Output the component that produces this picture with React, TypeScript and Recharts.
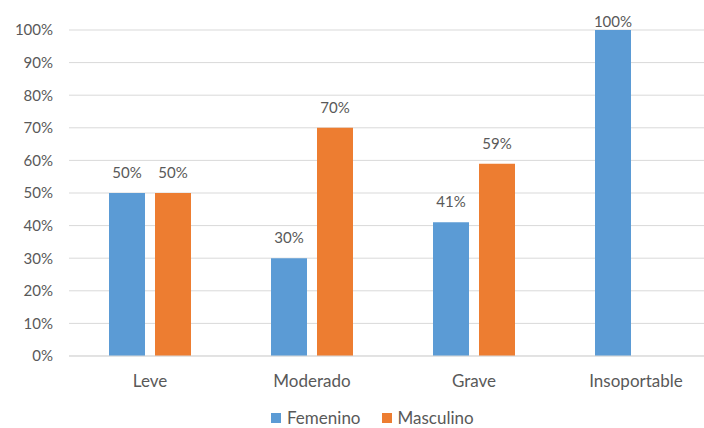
import React from "react";
import { BarChart, Bar, XAxis, YAxis, CartesianGrid, Legend, LabelList } from "recharts";

const categories = ["Leve", "Moderado", "Grave", "Insoportable"];
const femenino = [50, 30, 41, 100];
const masculino: (number | null)[] = [50, 70, 59, null];
const yTicks = [0, 10, 20, 30, 40, 50, 60, 70, 80, 90, 100];

const data = categories.map((name, i) => ({ name, femenino: femenino[i], masculino: masculino[i] }));

const FONT = "Lato, 'Liberation Sans', sans-serif";
const TEXT = "#595959";
const BLUE = "#5B9BD5";
const ORANGE = "#ED7D31";

// data label above bar, pushed down when it would leave the chart (like Excel)
const TopLabel = (props: any) => {
  const { x, y, width, value } = props;
  if (value == null) return null;
  const ty = Math.max(y - 15, 27);
  return (
    <text x={x + width / 2} y={ty} textAnchor="middle" fill={TEXT} fontSize={15} fontFamily={FONT}>
      {value}%
    </text>
  );
};

const LegendBox = () => (
  <div style={{ height: 32, position: "relative", fontFamily: FONT, fontSize: 17, color: TEXT, lineHeight: "18px" }}>
    <div style={{ position: "absolute", left: 271, top: 13, display: "flex", alignItems: "center" }}>
      <span style={{ width: 10, height: 10, background: BLUE, display: "inline-block", marginRight: 6 }} />
      <span style={{ marginRight: 21 }}>Femenino</span>
      <span style={{ width: 10, height: 10, background: ORANGE, display: "inline-block", marginRight: 6 }} />
      <span>Masculino</span>
    </div>
  </div>
);

export default function App() {
  return (
    <div style={{ position: "absolute", top: 0, left: 0, width: 704, height: 428, overflow: "hidden", background: "#fff" }}>
      <BarChart
        width={720}
        height={428}
        data={data}
        margin={{ top: 30, right: 3, bottom: 0, left: 0 }}
        barGap={10}
      >
        <CartesianGrid vertical={false} stroke="#d9d9d9" />
        <XAxis
          dataKey="name"
          height={40}
          tickLine={false}
          tickSize={0}
          tickMargin={19}
          axisLine={{ stroke: "#d9d9d9" }}
          tick={{ fill: TEXT, fontSize: 17, fontFamily: FONT }}
        />
        <YAxis
          width={69}
          domain={[0, 100]}
          ticks={yTicks}
          interval={0}
          axisLine={false}
          tickLine={false}
          tickSize={0}
          tickMargin={16}
          tickFormatter={(v: number) => `${v}%`}
          tick={{ fill: TEXT, fontSize: 15, fontFamily: FONT }}
        />
        <Legend verticalAlign="bottom" wrapperStyle={{ left: 0, width: 704 }} content={<LegendBox />} />
        <Bar dataKey="femenino" name="Femenino" fill={BLUE} barSize={36} isAnimationActive={false}>
          <LabelList dataKey="femenino" content={<TopLabel />} />
        </Bar>
        <Bar dataKey="masculino" name="Masculino" fill={ORANGE} barSize={36} isAnimationActive={false}>
          <LabelList dataKey="masculino" content={<TopLabel />} />
        </Bar>
      </BarChart>
    </div>
  );
}
